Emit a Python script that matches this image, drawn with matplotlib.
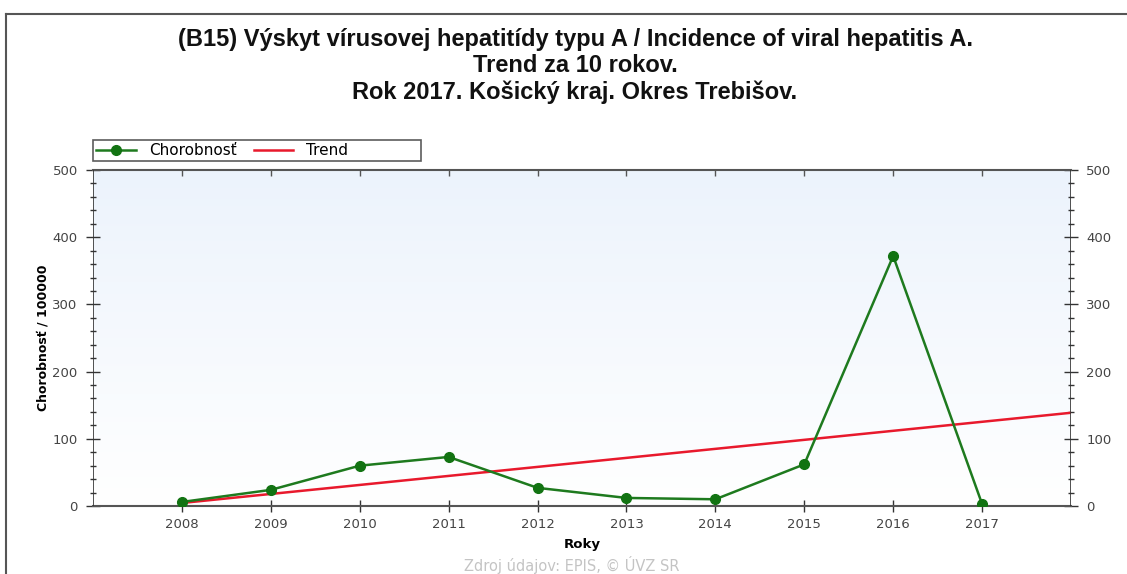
import numpy as np
import matplotlib
matplotlib.use("Agg")
import matplotlib.pyplot as plt
from matplotlib.lines import Line2D
from matplotlib.ticker import MultipleLocator

years = [2008, 2009, 2010, 2011, 2012, 2013, 2014, 2015, 2016, 2017]
chorobnost = [6, 24, 60, 73, 27, 12, 10, 62, 372, 3]
trend_years = [2008, 2018]

# linear trend through the incidence values
k, q = np.polyfit(years, chorobnost, 1)
trend = [k * t + q for t in trend_years]

fig = plt.figure(figsize=(11.27, 5.74), dpi=100)
ax = fig.add_axes([93 / 1127, 1 - 506 / 574, (1071 - 93) / 1127, (506 - 170) / 574])

# light blue to white background
grad = np.linspace(0, 1, 256).reshape(-1, 1)
ax.imshow(grad, extent=[2007, 2018, 0, 500], aspect="auto", origin="lower",
          cmap=matplotlib.colors.LinearSegmentedColormap.from_list("bg", ["#ffffff", "#ecf3fc"]),
          zorder=0)

ax.plot(trend_years, trend, color="#e8192c", lw=1.8, zorder=2, label="Trend")
ax.plot(years, chorobnost, color="#1e7a1e", lw=1.8, marker="o", ms=7,
        mfc="#127312", mec="#127312", zorder=3, label="Chorobnosť")

ax.set_xlim(2007, 2018)
ax.set_ylim(0, 500)
ax.set_xticks(years)
ax.yaxis.set_major_locator(MultipleLocator(100))
ax.yaxis.set_minor_locator(MultipleLocator(20))

for s in ["left", "right"]:
    ax.spines[s].set_visible(False)
for s in ["top", "bottom"]:
    ax.spines[s].set_color("#555555")
    ax.spines[s].set_linewidth(1.5)

ax.tick_params(axis="x", which="both", direction="inout", length=8, width=1,
               color="#333333", labelsize=9.5, labelcolor="#444444", top=False, pad=5)
ax.tick_params(axis="y", which="major", direction="inout", length=10, width=1,
               color="#333333", labelsize=9.5, labelcolor="#444444", right=True,
               labelright=True, pad=6)
ax.tick_params(axis="y", which="minor", direction="inout", length=5, width=1,
               color="#333333", right=True)

# small inward ticks on the top edge
top = ax.secondary_xaxis("top")
top.set_xticks(years)
top.tick_params(direction="in", length=4, width=1, color="#555555", labeltop=False)
top.spines["top"].set_visible(False)

# left and right vertical axis lines at the frame edges
ax.axvline(2007, color="#333333", lw=1.2, zorder=4)
ax.axvline(2018, color="#333333", lw=1.2, zorder=4)

ax.set_xlabel("Roky", fontsize=9.5, fontweight="bold", labelpad=5)
ax.set_ylabel("Chorobnosť / 100000", fontsize=9, fontweight="bold", labelpad=2)

fig.text(575 / 1127, 1 - 66 / 574,
         "(B15) Výskyt vírusovej hepatitídy typu A / Incidence of viral hepatitis A.\n"
         "Trend za 10 rokov.\nRok 2017. Košický kraj. Okres Trebišov.",
         ha="center", va="center", multialignment="center", family="Liberation Sans",
         fontsize=17, fontweight="bold", linespacing=1.2, color="#111111")

# third, empty entry only widens the legend box like in the original
h, l = ax.get_legend_handles_labels()
handles = h[::-1] + [Line2D([], [], linestyle="none")]
labels = l[::-1] + [""]
leg = ax.legend(handles, labels, loc="lower left", bbox_to_anchor=(0, 1.026),
                ncol=3, frameon=True, fancybox=False, fontsize=11,
                borderpad=0.22, handlelength=2.6, columnspacing=1.1, handletextpad=0.85,
                borderaxespad=0)
leg.get_frame().set_edgecolor("#333333")
leg.get_frame().set_linewidth(1.2)

fig.text(572 / 1127, 1 - 565 / 574, "Zdroj údajov: EPIS, © ÚVZ SR", ha="center", va="center",
         fontsize=10.5, color="#c4c4c4")

# outer frame (top and left edges visible)
fig.add_artist(Line2D([6 / 1127, 6 / 1127], [0, 1 - 14 / 574], color="#555555", lw=1.5,
                      transform=fig.transFigure))
fig.add_artist(Line2D([6 / 1127, 1], [1 - 14 / 574, 1 - 14 / 574], color="#555555", lw=1.5,
                      transform=fig.transFigure))

fig.savefig("out.png", dpi=100)
